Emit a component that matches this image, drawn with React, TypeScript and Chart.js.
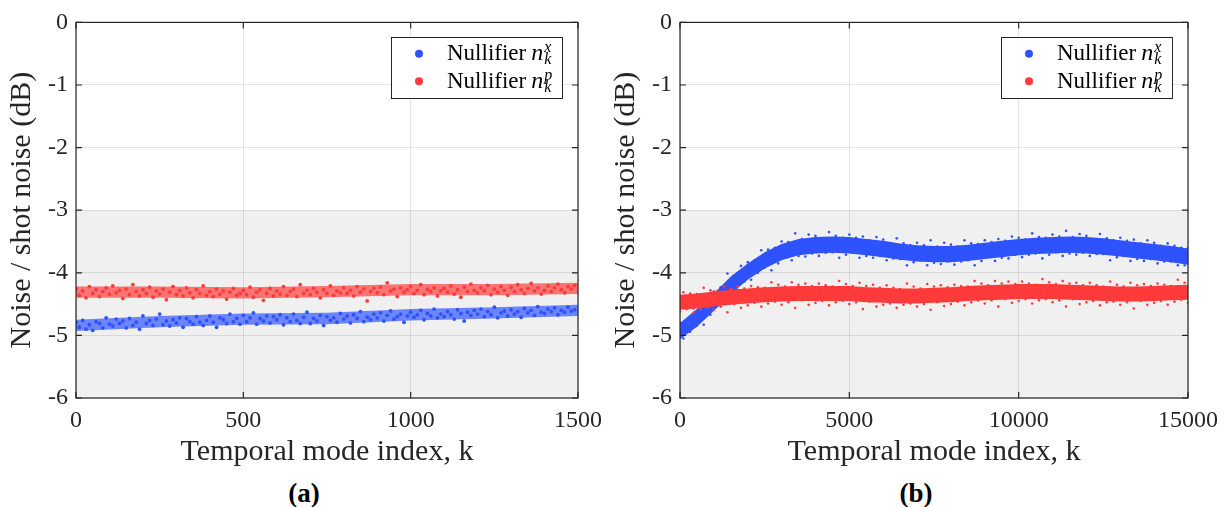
import React, { useEffect, useRef } from 'react';
import { Chart, registerables } from 'chart.js';

Chart.register(...registerables);

const BLUE = '#2f52ff';
const RED = '#ff3a3a';
const FONT = '"Liberation Serif", "Times New Roman", serif';
const AXIS_COLOR = '#262626';

// ---------- Panel (a): k = 0 .. 1490, every 10th mode ----------
const K_A_STEP = 10;
const BLUE_A = [
  -4.79, -4.87, -4.76, -4.90, -4.83, -4.92, -4.78, -4.81, -4.88, -4.72,
  -4.82, -4.85, -4.74, -4.81, -4.77, -4.88, -4.73, -4.84, -4.79, -4.90,
  -4.69, -4.81, -4.76, -4.84, -4.74, -4.66, -4.83, -4.77, -4.85, -4.75,
  -4.80, -4.72, -4.87, -4.73, -4.78, -4.82, -4.70, -4.79, -4.84, -4.76,
  -4.69, -4.79, -4.87, -4.72, -4.75, -4.81, -4.66, -4.78, -4.73, -4.82,
  -4.68, -4.78, -4.72, -4.64, -4.82, -4.73, -4.77, -4.69, -4.80, -4.70,
  -4.75, -4.67, -4.83, -4.72, -4.78, -4.66, -4.76, -4.81, -4.71, -4.63,
  -4.81, -4.73, -4.77, -4.68, -4.84, -4.70, -4.76, -4.72, -4.79, -4.65,
  -4.74, -4.69, -4.80, -4.67, -4.73, -4.62, -4.78, -4.71, -4.75, -4.66,
  -4.72, -4.64, -4.77, -4.68, -4.61, -4.74, -4.70, -4.66, -4.79, -4.69,
  -4.63, -4.71, -4.67, -4.60, -4.75, -4.65, -4.69, -4.58, -4.72, -4.66,
  -4.70, -4.62, -4.67, -4.74, -4.59, -4.65, -4.77, -4.63, -4.68, -4.60,
  -4.66, -4.58, -4.70, -4.62, -4.67, -4.55, -4.72, -4.64, -4.61, -4.69,
  -4.59, -4.66, -4.62, -4.71, -4.57, -4.64, -4.60, -4.68, -4.54, -4.63,
  -4.65, -4.58, -4.62, -4.56, -4.67, -4.60, -4.63, -4.55, -4.61, -4.59,
];
const RED_A = [
  -4.25, -4.36, -4.29, -4.40, -4.22, -4.33, -4.27, -4.38, -4.30, -4.24,
  -4.34, -4.21, -4.32, -4.28, -4.41, -4.26, -4.35, -4.19, -4.30, -4.37,
  -4.27, -4.33, -4.23, -4.39, -4.29, -4.34, -4.26, -4.43, -4.31, -4.22,
  -4.35, -4.28, -4.37, -4.24, -4.32, -4.40, -4.27, -4.33, -4.21, -4.36,
  -4.30, -4.38, -4.26, -4.34, -4.29, -4.42, -4.31, -4.25, -4.36, -4.33,
  -4.28, -4.35, -4.23, -4.39, -4.31, -4.27, -4.44, -4.33, -4.25, -4.37,
  -4.29, -4.34, -4.22, -4.36, -4.30, -4.26, -4.38, -4.19, -4.33, -4.28,
  -4.35, -4.25, -4.31, -4.40, -4.27, -4.33, -4.21, -4.36, -4.29, -4.32,
  -4.24, -4.33, -4.28, -4.37, -4.22, -4.31, -4.26, -4.45, -4.30, -4.25,
  -4.32, -4.23, -4.35, -4.16, -4.29, -4.26, -4.38, -4.24, -4.31, -4.27,
  -4.22, -4.33, -4.28, -4.19, -4.35, -4.26, -4.30, -4.24, -4.37, -4.29,
  -4.25, -4.31, -4.21, -4.34, -4.27, -4.39, -4.23, -4.30, -4.18, -4.28,
  -4.32, -4.24, -4.29, -4.20, -4.35, -4.26, -4.31, -4.22, -4.28, -4.36,
  -4.23, -4.30, -4.19, -4.27, -4.33, -4.25, -4.17, -4.29, -4.24, -4.34,
  -4.28, -4.21, -4.30, -4.24, -4.18, -4.27, -4.32, -4.22, -4.26, -4.20,
];
// dense core of each band (upper / lower edge), read at these k
const BAND_A_K = [0, 250, 500, 750, 1000, 1250, 1500];
const BLUE_A_UP = [-4.75, -4.69, -4.65, -4.64, -4.58, -4.55, -4.51];
const BLUE_A_LO = [-4.93, -4.87, -4.83, -4.82, -4.76, -4.73, -4.69];
const RED_A_UP = [-4.22, -4.22, -4.23, -4.21, -4.18, -4.18, -4.16];
const RED_A_LO = [-4.40, -4.40, -4.41, -4.39, -4.36, -4.36, -4.34];

// ---------- Panel (b): k = 0 .. 15000, every 100th mode ----------
const K_B_STEP = 100;
const BLUE_B = [
  -4.80, -5.05, -4.75, -4.94, -4.57, -4.84, -4.53, -4.83, -4.45, -4.67,
  -4.30, -4.53, -4.23, -4.49, -4.01, -4.34, -4.04, -4.27, -3.89, -4.14,
  -3.83, -4.11, -3.80, -4.00, -3.64, -3.92, -3.63, -3.96, -3.60, -3.85,
  -3.50, -3.76, -3.51, -3.80, -3.37, -3.73, -3.46, -3.74, -3.39, -3.69,
  -3.41, -3.73, -3.45, -3.68, -3.35, -3.67, -3.41, -3.76, -3.44, -3.71,
  -3.39, -3.68, -3.44, -3.76, -3.42, -3.73, -3.48, -3.76, -3.43, -3.73,
  -3.47, -3.80, -3.53, -3.77, -3.45, -3.78, -3.53, -3.88, -3.56, -3.83,
  -3.52, -3.80, -3.56, -3.88, -3.48, -3.84, -3.58, -3.86, -3.52, -3.82,
  -3.55, -3.87, -3.58, -3.82, -3.48, -3.80, -3.53, -3.88, -3.54, -3.81,
  -3.48, -3.75, -3.51, -3.81, -3.46, -3.76, -3.49, -3.77, -3.42, -3.71,
  -3.44, -3.75, -3.47, -3.71, -3.37, -3.69, -3.43, -3.77, -3.44, -3.71,
  -3.39, -3.67, -3.42, -3.73, -3.33, -3.69, -3.43, -3.71, -3.38, -3.68,
  -3.41, -3.73, -3.46, -3.70, -3.38, -3.70, -3.45, -3.80, -3.48, -3.75,
  -3.44, -3.73, -3.49, -3.81, -3.47, -3.78, -3.53, -3.81, -3.48, -3.78,
  -3.52, -3.85, -3.57, -3.82, -3.53, -3.82, -3.57, -3.88, -3.60, -3.88,
  -3.61,
];
const RED_B = [
  -4.62, -4.31, -4.58, -4.33, -4.64, -4.34, -4.58, -4.24, -4.55, -4.28,
  -4.59, -4.29, -4.54, -4.22, -4.63, -4.25, -4.50, -4.22, -4.56, -4.25,
  -4.52, -4.21, -4.48, -4.23, -4.54, -4.24, -4.49, -4.15, -4.46, -4.19,
  -4.51, -4.22, -4.47, -4.15, -4.56, -4.19, -4.44, -4.17, -4.51, -4.21,
  -4.48, -4.17, -4.45, -4.20, -4.52, -4.22, -4.47, -4.13, -4.45, -4.18,
  -4.50, -4.21, -4.47, -4.16, -4.58, -4.21, -4.46, -4.19, -4.54, -4.24,
  -4.51, -4.20, -4.49, -4.24, -4.56, -4.26, -4.51, -4.17, -4.49, -4.22,
  -4.54, -4.25, -4.50, -4.18, -4.59, -4.22, -4.47, -4.20, -4.53, -4.23,
  -4.50, -4.19, -4.46, -4.21, -4.52, -4.22, -4.47, -4.13, -4.44, -4.17,
  -4.49, -4.20, -4.44, -4.13, -4.54, -4.17, -4.42, -4.14, -4.48, -4.18,
  -4.45, -4.14, -4.42, -4.17, -4.49, -4.19, -4.44, -4.10, -4.42, -4.15,
  -4.47, -4.18, -4.44, -4.13, -4.54, -4.17, -4.42, -4.16, -4.50, -4.20,
  -4.47, -4.16, -4.45, -4.20, -4.52, -4.22, -4.47, -4.14, -4.46, -4.19,
  -4.51, -4.22, -4.47, -4.16, -4.57, -4.20, -4.45, -4.18, -4.51, -4.21,
  -4.48, -4.17, -4.45, -4.19, -4.51, -4.21, -4.46, -4.11, -4.43, -4.16,
  -4.48,
];
const BAND_B_K = [
  0, 500, 1000, 1500, 2000, 2500, 3000, 3500, 4000, 4500, 5000, 5500, 6000, 6500, 7000, 7500,
  8000, 8500, 9000, 9500, 10000, 10500, 11000, 11500, 12000, 12500, 13000, 13500, 14000, 14500, 15000,
];
const BLUE_B_UP = [
  -4.80, -4.58, -4.33, -4.06, -3.85, -3.67, -3.54, -3.46, -3.43, -3.42, -3.43, -3.46, -3.49, -3.53, -3.56, -3.57,
  -3.57, -3.55, -3.52, -3.49, -3.46, -3.44, -3.43, -3.42, -3.43, -3.45, -3.48, -3.51, -3.54, -3.57, -3.61,
];
const BLUE_B_LO = [
  -5.06, -4.86, -4.61, -4.34, -4.11, -3.93, -3.80, -3.72, -3.69, -3.68, -3.69, -3.72, -3.75, -3.79, -3.82, -3.83,
  -3.83, -3.81, -3.78, -3.75, -3.72, -3.70, -3.69, -3.68, -3.69, -3.71, -3.74, -3.77, -3.80, -3.83, -3.87,
];
const RED_B_UP = [
  -4.35, -4.33, -4.30, -4.27, -4.25, -4.23, -4.22, -4.21, -4.21, -4.21, -4.21, -4.23, -4.24, -4.25, -4.25, -4.24,
  -4.23, -4.21, -4.20, -4.19, -4.18, -4.18, -4.18, -4.19, -4.20, -4.21, -4.22, -4.22, -4.21, -4.20, -4.19,
];
const RED_B_LO = [
  -4.59, -4.57, -4.54, -4.51, -4.49, -4.47, -4.46, -4.45, -4.45, -4.45, -4.45, -4.47, -4.48, -4.49, -4.49, -4.48,
  -4.47, -4.45, -4.44, -4.43, -4.42, -4.42, -4.42, -4.43, -4.44, -4.45, -4.46, -4.46, -4.45, -4.44, -4.43,
];

// ---------- axes ----------
const Y_TICKS = [-6, -5, -4, -3, -2, -1, 0];
const X_TICKS_A = [0, 500, 1000, 1500];
const X_TICKS_B = [0, 5000, 10000, 15000];
const SHADE_FROM = -3;
const SHADE_TO = -6;
const X_TITLE = 'Temporal mode index, k';
const Y_TITLE = 'Noise / shot noise (dB)';
const LEGEND_ITEMS = [
  { label: 'Nullifier', sup: 'x', sub: 'k', color: BLUE },
  { label: 'Nullifier', sup: 'p', sub: 'k', color: RED },
];

const CANVAS_H = 470;

function hexA(hex: string, a: number) {
  const n = parseInt(hex.slice(1), 16);
  return `rgba(${(n >> 16) & 255},${(n >> 8) & 255},${n & 255},${a})`;
}

const framePlugin = {
  id: 'frame',
  beforeDraw(chart: any) {
    const { ctx, chartArea: a, scales } = chart;
    const y = scales.y;
    const t = y.getPixelForValue(SHADE_FROM);
    const b = y.getPixelForValue(SHADE_TO);
    ctx.save();
    ctx.fillStyle = '#f0f0f0';
    ctx.fillRect(a.left, t, a.right - a.left, b - t);
    ctx.restore();
  },
  afterDraw(chart: any) {
    const { ctx, chartArea: a, scales } = chart;
    const xs = scales.x;
    const ys = scales.y;
    ctx.save();
    ctx.strokeStyle = AXIS_COLOR;
    ctx.lineWidth = 1.2;
    ctx.strokeRect(a.left, a.top, a.right - a.left, a.bottom - a.top);
    const TL = 6;
    ctx.beginPath();
    xs.ticks.forEach((tk: any) => {
      const px = xs.getPixelForValue(tk.value);
      ctx.moveTo(px, a.bottom);
      ctx.lineTo(px, a.bottom - TL);
      ctx.moveTo(px, a.top);
      ctx.lineTo(px, a.top + TL);
    });
    ys.ticks.forEach((tk: any) => {
      const py = ys.getPixelForValue(tk.value);
      ctx.moveTo(a.left, py);
      ctx.lineTo(a.left + TL, py);
      ctx.moveTo(a.right, py);
      ctx.lineTo(a.right - TL, py);
    });
    ctx.stroke();

    // legend
    const W = 171;
    const H = 61;
    const lx = Math.round(a.right - 16 - W);
    const ly = Math.round(a.top + 15);
    ctx.fillStyle = '#ffffff';
    ctx.fillRect(lx, ly, W, H);
    ctx.strokeStyle = AXIS_COLOR;
    ctx.lineWidth = 1;
    ctx.strokeRect(lx + 0.5, ly + 0.5, W, H);
    LEGEND_ITEMS.forEach((it, i) => {
      const cy = ly + 16.7 + i * 27.5;
      ctx.fillStyle = it.color;
      ctx.beginPath();
      ctx.arc(lx + 28, cy, 4, 0, Math.PI * 2);
      ctx.fill();
      const base = ly + 23.3 + i * 27.7;
      ctx.fillStyle = '#000000';
      ctx.textAlign = 'left';
      ctx.textBaseline = 'alphabetic';
      ctx.font = `23px ${FONT}`;
      const tx = lx + 56;
      ctx.fillText(it.label, tx, base);
      let x = tx + ctx.measureText(it.label).width + 5;
      ctx.font = `italic 24px ${FONT}`;
      ctx.fillText('n', x, base);
      x += ctx.measureText('n').width + 1;
      ctx.font = `italic 16px ${FONT}`;
      ctx.fillText(it.sup, x, base - 8);
      ctx.fillText(it.sub, x, base + 4);
    });
    ctx.restore();
  },
};

interface PanelData {
  kStep: number;
  blue: number[];
  red: number[];
  bandK: number[];
  blueUp: number[];
  blueLo: number[];
  redUp: number[];
  redLo: number[];
  xMax: number;
  xTicks: number[];
  pointR: number;
  bandAlpha: number;
  rightPad: number;
}

function makeConfig(p: PanelData): any {
  const pts = (vals: number[]) => vals.map((v, i) => ({ x: i * p.kStep, y: v }));
  const band = (vals: number[]) => vals.map((v, i) => ({ x: p.bandK[i], y: v }));
  const bandDs = (vals: number[], color: string, fill: any, order: number) => ({
    type: 'line',
    data: band(vals),
    borderWidth: 0,
    pointRadius: 0,
    tension: 0,
    backgroundColor: hexA(color, p.bandAlpha),
    borderColor: 'rgba(0,0,0,0)',
    fill,
    order,
  });
  const scatterDs = (vals: number[], color: string, order: number) => ({
    type: 'scatter',
    data: pts(vals),
    pointRadius: p.pointR,
    pointBorderWidth: 0,
    pointBackgroundColor: color,
    backgroundColor: color,
    borderColor: color,
    order,
  });
  return {
    type: 'scatter',
    data: {
      datasets: [
        bandDs(p.blueUp, BLUE, false, 4),
        bandDs(p.blueLo, BLUE, '-1', 4),
        scatterDs(p.blue, BLUE, 3),
        bandDs(p.redUp, RED, false, 2),
        bandDs(p.redLo, RED, '-1', 2),
        scatterDs(p.red, RED, 1),
      ],
    },
    options: {
      responsive: false,
      animation: false,
      events: [],
      layout: { autoPadding: false, padding: { top: 15, left: 0, right: p.rightPad, bottom: 0 } },
      plugins: { legend: { display: false }, tooltip: { enabled: false } },
      scales: {
        x: {
          type: 'linear',
          min: 0,
          max: p.xMax,
          afterBuildTicks: (s: any) => {
            s.ticks = p.xTicks.map((v) => ({ value: v }));
          },
          afterFit: (s: any) => {
            s.height = 72;
          },
          grid: { color: 'rgba(0,0,0,0.1)', drawTicks: false, lineWidth: 1 },
          border: { display: false },
          ticks: {
            padding: 8,
            color: AXIS_COLOR,
            font: { family: FONT, size: 24 },
            maxRotation: 0,
            autoSkip: false,
            callback: (v: any) => String(v),
          },
          title: {
            display: true,
            text: X_TITLE,
            color: AXIS_COLOR,
            font: { family: FONT, size: 30 },
            padding: { top: 0, bottom: 0 },
          },
        },
        y: {
          type: 'linear',
          min: -6,
          max: 0,
          afterBuildTicks: (s: any) => {
            s.ticks = Y_TICKS.map((v) => ({ value: v }));
          },
          afterFit: (s: any) => {
            s.width = 76;
          },
          grid: { color: 'rgba(0,0,0,0.1)', drawTicks: false, lineWidth: 1 },
          border: { display: false },
          ticks: {
            padding: 8,
            color: AXIS_COLOR,
            font: { family: FONT, size: 24 },
            autoSkip: false,
            callback: (v: any) => String(v),
          },
          title: {
            display: true,
            text: Y_TITLE,
            color: AXIS_COLOR,
            font: { family: FONT, size: 30 },
            padding: { top: 4, bottom: 0 },
          },
        },
      },
    },
    plugins: [framePlugin],
  };
}

const PANEL_A: PanelData = {
  kStep: K_A_STEP,
  blue: BLUE_A,
  red: RED_A,
  bandK: BAND_A_K,
  blueUp: BLUE_A_UP,
  blueLo: BLUE_A_LO,
  redUp: RED_A_UP,
  redLo: RED_A_LO,
  xMax: 1500,
  xTicks: X_TICKS_A,
  pointR: 1.9,
  bandAlpha: 0.68,
  rightPad: 26,
};

const PANEL_B: PanelData = {
  kStep: K_B_STEP,
  blue: BLUE_B,
  red: RED_B,
  bandK: BAND_B_K,
  blueUp: BLUE_B_UP,
  blueLo: BLUE_B_LO,
  redUp: RED_B_UP,
  redLo: RED_B_LO,
  xMax: 15000,
  xTicks: X_TICKS_B,
  pointR: 1.3,
  bandAlpha: 1,
  rightPad: 41,
};

function loadFonts(): Promise<unknown> {
  const d: any = document;
  if (!d.fonts || !d.fonts.load) return Promise.resolve();
  return Promise.all([
    d.fonts.load('24px "Liberation Serif"'),
    d.fonts.load('italic 24px "Liberation Serif"'),
    d.fonts.load('bold 24px "Liberation Serif"'),
  ]).catch(() => undefined);
}

function Panel({ data, left, width }: { data: PanelData; left: number; width: number }) {
  const ref = useRef<HTMLCanvasElement | null>(null);
  useEffect(() => {
    let chart: Chart | null = null;
    let cancelled = false;
    loadFonts().then(() => {
      if (cancelled || !ref.current) return;
      chart = new Chart(ref.current, makeConfig(data));
    });
    return () => {
      cancelled = true;
      if (chart) chart.destroy();
    };
  }, [data]);
  return (
    <canvas
      ref={ref}
      width={width}
      height={CANVAS_H}
      style={{ position: 'absolute', left, top: 0, width, height: CANVAS_H, display: 'block' }}
    />
  );
}

const capStyle = (cx: number): React.CSSProperties => ({
  position: 'absolute',
  left: cx - 60,
  width: 120,
  top: 478,
  lineHeight: '30px',
  textAlign: 'center',
  fontFamily: FONT,
  fontWeight: 'bold',
  fontSize: 27,
  color: '#000',
});

export default function App() {
  return (
    <div
      style={{
        position: 'absolute',
        left: 0,
        top: 0,
        width: 1229,
        height: 507,
        background: '#ffffff',
        overflow: 'hidden',
      }}
    >
      <Panel data={PANEL_A} left={0} width={610} />
      <Panel data={PANEL_B} left={604} width={625} />
      <div style={capStyle(304)}>(a)</div>
      <div style={capStyle(916)}>(b)</div>
    </div>
  );
}
